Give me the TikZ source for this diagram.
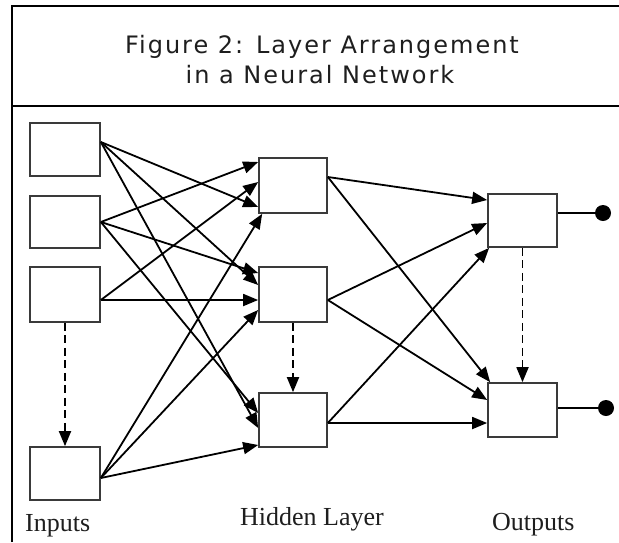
\documentclass[tikz,border=0pt]{standalone}
\usepackage{fontspec}
\usetikzlibrary{arrows.meta,calc}
\newfontfamily\titlefont[LetterSpace=8.3]{DejaVu Sans}
\newfontfamily\labelfont{Liberation Serif}
\definecolor{boxgray}{HTML}{3A3A3A}
\definecolor{txtgray}{HTML}{1E1E1E}
\tikzset{
  unit/.style={draw=boxgray,line width=1.7pt,inner sep=0pt,fill=white},
  conn/.style={line width=1.8pt,-{Triangle[length=15pt,width=12pt]}},
  dashconn/.style={line width=1.8pt,dash pattern=on 8pt off 4.5pt,-{Triangle[length=15pt,width=12pt]}},
  outdot/.style={circle,fill=black,inner sep=0pt,minimum size=16pt},
  ttl/.style={anchor=base,inner sep=0pt,text=txtgray,font=\titlefont\fontsize{24}{28}\selectfont},
  lbl/.style={anchor=base west,inner sep=0pt,text=txtgray,font=\labelfont\fontsize{26}{30}\selectfont}
}
\begin{document}
\begin{tikzpicture}[x=1pt,y=-1pt]
\useasboundingbox (0,0) rectangle (619,542);
% frame
\draw[line width=1.6pt] (12,542) -- (12,6) -- (619,6);
\draw[line width=2.2pt] (12,106) -- (619,106);
% title
\node[ttl] (t1) at (322,53) {Figure 2: Layer Arrangement};
\node[ttl] (t2) at (320,83) {in a Neural Network};
% units
\node[unit,minimum width=70pt,minimum height=53pt] (I1) at (65,149.5) {};
\node[unit,minimum width=70pt,minimum height=52pt] (I2) at (65,222) {};
\node[unit,minimum width=70pt,minimum height=55pt] (I3) at (65,294.5) {};
\node[unit,minimum width=70pt,minimum height=53pt] (I4) at (65,473.5) {};
\node[unit,minimum width=68pt,minimum height=55pt] (H1) at (293,185.5) {};
\node[unit,minimum width=68pt,minimum height=55pt] (H2) at (293,294.5) {};
\node[unit,minimum width=68pt,minimum height=54pt] (H3) at (293,420) {};
\node[unit,minimum width=69pt,minimum height=53pt] (O1) at (522.5,220.5) {};
\node[unit,minimum width=69pt,minimum height=54pt] (O2) at (522.5,410) {};
\node[outdot] (D1) at (603,213) {};
\node[outdot] (D2) at (606,408) {};
% sources
\coordinate (s1) at ($(I1.east)+(0,-7.5)$);
\coordinate (s2) at (I2.east);
\coordinate (s3) at ($(I3.east)+(0,5.5)$);
\coordinate (s4) at ($(I4.east)+(0,4.5)$);
\coordinate (h1) at ($(H1.east)+(0,-8.5)$);
\coordinate (h2) at ($(H2.east)+(0,5.5)$);
\coordinate (h3) at ($(H3.east)+(0,3)$);
% inputs -> hidden
\draw[conn] (s2) -- ($(H1.west)+(0,-23.5)$);
\draw[conn] (s3) -- ($(H1.west)+(0,-3.5)$);
\draw[conn] (s1) -- ($(H1.west)+(0,21.5)$);
\draw[conn] (s4) -- ($(H1.south west)+(4,0)$);
\draw[conn] (s2) -- ($(H2.west)+(0,-21.5)$);
\draw[conn] (s1) -- ($(H2.west)+(0,-9.5)$);
\draw[conn] (s3) -- ($(H2.west)+(0,5.5)$);
\draw[conn] (s4) -- ($(H2.west)+(0,15.5)$);
\draw[conn] (s2) -- ($(H3.west)+(0,-7)$);
\draw[conn] (s1) -- ($(H3.west)+(0,8)$);
\draw[conn] (s4) -- ($(H3.west)+(0,25)$);
% hidden -> outputs
\draw[conn] (h1) -- ($(O1.west)+(0,-20.5)$);
\draw[conn] (h2) -- ($(O1.west)+(0,2.5)$);
\draw[conn] (h3) -- ($(O1.south west)+(2,0)$);
\draw[conn] (h1) -- ($(O2.north west)+(3,0)$);
\draw[conn] (h2) -- ($(O2.west)+(0,-10)$);
\draw[conn] (h3) -- ($(O2.west)+(0,13)$);
% dashed
\draw[dashconn] (I3.south) -- (I4.north);
\draw[dashconn] (H2.south) -- (H3.north);
\draw[dashconn] (O1.south) -- (O2.north);
% outputs
\draw[line width=1.8pt] ($(O1.east)+(0,-7.5)$) -- (D1);
\draw[line width=1.8pt] ($(O2.east)+(0,-2)$) -- (D2);
% labels
\node[lbl] (L1) at (25,531) {Inputs};
\node[lbl] (L2) at (240,525) {Hidden Layer};
\node[lbl] (L3) at (492,530) {Outputs};
\end{tikzpicture}
\end{document}
